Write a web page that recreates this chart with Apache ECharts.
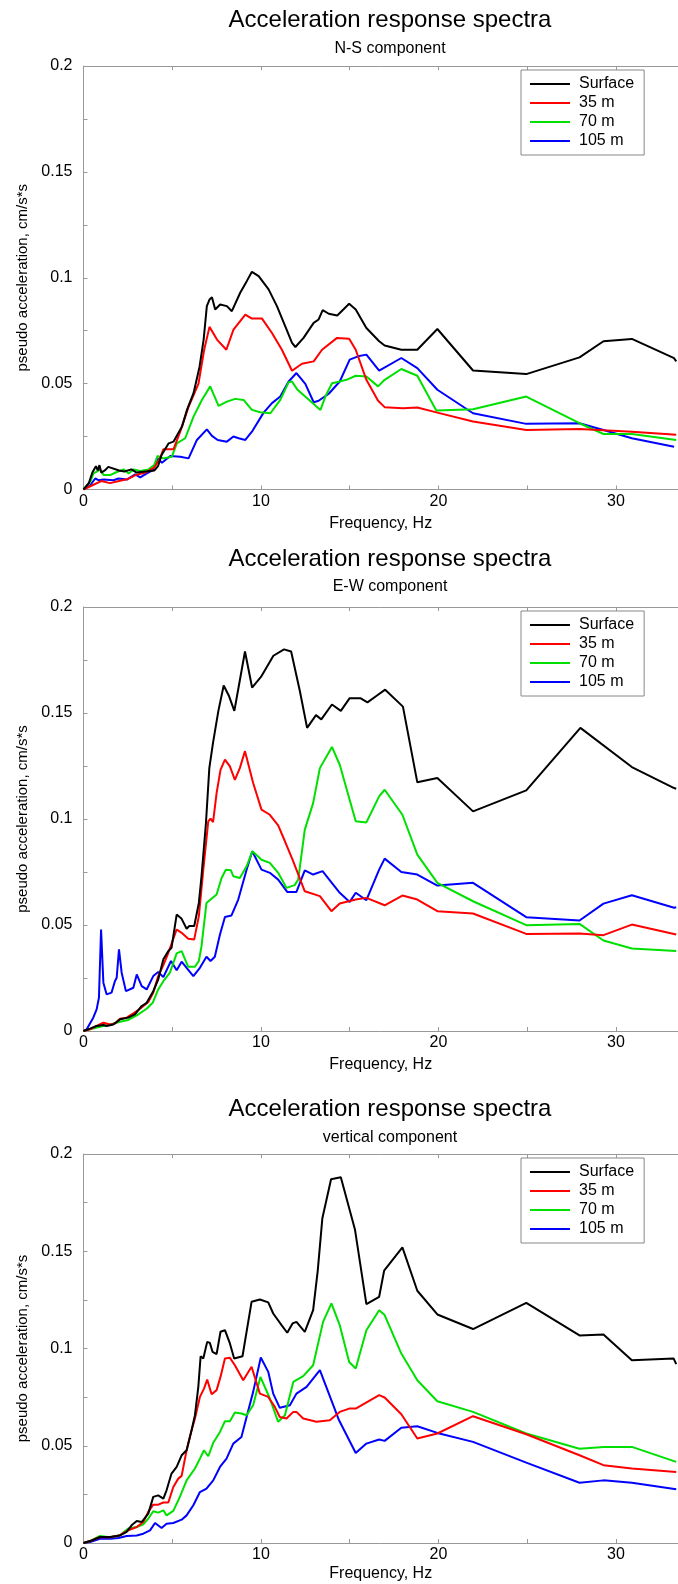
<!DOCTYPE html>
<html>
<head>
<meta charset="utf-8">
<title>Acceleration response spectra</title>
<script src="https://cdn.jsdelivr.net/npm/echarts@6/dist/echarts.min.js"></script>
<style>
	html, body { margin: 0; padding: 0; background: #fff; }
	#plot { width: 678px; height: 1584px; }
</style>
</head>
<body>
<div id="plot"></div>
<script>
// values: [frequency Hz, pseudo acceleration]
const nsSurface = [[0,0],[0.3,0.003],[0.5,0.008],[0.7,0.011],[0.8,0.009],[0.9,0.0115],[1.0,0.008],[1.2,0.009],[1.4,0.0107],[2.0,0.009],[2.3,0.0085],[2.7,0.0095],[3.0,0.008],[3.5,0.0085],[4.0,0.009],[4.2,0.011],[4.4,0.0163],[4.8,0.0218],[5.07,0.0226],[5.55,0.0297],[5.83,0.0376],[6.2,0.0455],[6.54,0.058],[6.77,0.0708],[6.95,0.0866],[7.1,0.0897],[7.24,0.0908],[7.42,0.085],[7.7,0.0874],[8.08,0.0866],[8.36,0.0842],[8.83,0.0929],[9.2,0.0984],[9.49,0.1028],[9.87,0.1008],[10.43,0.0945],[10.9,0.0866],[11.37,0.077],[11.75,0.0692],[11.94,0.0673],[12.4,0.0716],[12.97,0.0787],[13.25,0.0803],[13.48,0.0847],[13.82,0.083],[14.3,0.0822],[14.97,0.0877],[15.34,0.085],[15.94,0.0763],[16.66,0.07],[16.97,0.068],[17.91,0.066],[18.81,0.066],[19.94,0.0758],[21.95,0.0562],[24.95,0.0545],[27.95,0.0624],[29.3,0.07],[30.9,0.0711],[33.28,0.062],[33.4,0.0605]];
const ns35 = [[0,0],[0.5,0.002],[1.0,0.004],[1.5,0.003],[2.0,0.004],[2.5,0.005],[3.0,0.007],[3.5,0.008],[4.0,0.0105],[4.3,0.0145],[4.5,0.019],[5.07,0.019],[5.45,0.0273],[5.92,0.039],[6.48,0.05],[6.8,0.066],[7.1,0.0768],[7.52,0.0708],[8.05,0.066],[8.45,0.0755],[9.12,0.0826],[9.49,0.0807],[10.06,0.0807],[10.62,0.0739],[11.18,0.066],[11.75,0.0561],[12.31,0.0594],[12.97,0.0605],[13.44,0.066],[14.29,0.0716],[14.97,0.0712],[15.34,0.066],[15.94,0.0518],[16.6,0.0419],[16.97,0.0389],[18.0,0.0384],[18.81,0.0387],[19.94,0.0363],[21.95,0.0321],[24.95,0.0281],[27.95,0.0286],[30.9,0.0273],[33.4,0.0258]];
const ns70 = [[0,0],[0.4,0.004],[0.56,0.0076],[0.75,0.0084],[0.94,0.0095],[1.13,0.0068],[1.5,0.0068],[1.78,0.0079],[2.26,0.0095],[2.54,0.0076],[2.82,0.0095],[3.2,0.0087],[3.67,0.0095],[3.98,0.0115],[4.17,0.0158],[4.5,0.0147],[4.98,0.0155],[5.26,0.0218],[5.73,0.0242],[6.2,0.0344],[6.67,0.0423],[7.14,0.0487],[7.61,0.0395],[8.08,0.0415],[8.55,0.0428],[9.02,0.0423],[9.49,0.0376],[9.96,0.0365],[10.53,0.036],[11.09,0.0423],[11.56,0.0507],[11.75,0.051],[12.03,0.0474],[13.35,0.0376],[13.63,0.0439],[14.0,0.0502],[14.44,0.051],[14.82,0.0518],[15.34,0.0537],[15.94,0.0534],[16.6,0.0487],[16.97,0.0518],[17.91,0.0569],[18.81,0.0537],[19.88,0.0373],[21.95,0.0379],[24.95,0.0439],[27.95,0.0313],[29.3,0.0262],[30.9,0.0262],[33.4,0.0234]];
const ns105 = [[0,0],[0.38,0.002],[0.66,0.0052],[0.84,0.0044],[1.13,0.0047],[1.69,0.0044],[1.97,0.0052],[2.44,0.0047],[2.91,0.0071],[3.2,0.0057],[3.57,0.0076],[3.91,0.0092],[4.17,0.0147],[4.42,0.0126],[4.89,0.0158],[5.45,0.0155],[5.92,0.0147],[6.39,0.0234],[6.95,0.0284],[7.24,0.0253],[7.56,0.0234],[8.08,0.0226],[8.45,0.025],[8.74,0.0242],[9.12,0.0234],[9.49,0.0273],[10.15,0.0363],[10.62,0.0408],[11.09,0.0439],[11.56,0.051],[12.0,0.055],[12.5,0.0499],[12.97,0.0412],[13.25,0.0419],[13.82,0.0452],[14.44,0.051],[15.0,0.0613],[15.47,0.0629],[15.94,0.0637],[16.66,0.0561],[17.91,0.0621],[18.81,0.0573],[19.94,0.0471],[21.95,0.036],[24.95,0.031],[27.95,0.0313],[29.3,0.0281],[30.9,0.0242],[33.28,0.0202]];

const ewSurface = [[0,0],[0.37,0.0011],[0.74,0.0024],[1.12,0.0028],[1.3,0.0024],[1.68,0.0031],[2.06,0.0055],[2.52,0.0063],[2.9,0.0078],[3.28,0.0118],[3.56,0.0133],[3.93,0.0188],[4.21,0.0243],[4.5,0.0338],[4.78,0.0377],[4.96,0.0392],[5.25,0.0549],[5.53,0.0529],[5.81,0.0482],[5.96,0.0495],[6.24,0.0495],[6.5,0.0604],[6.65,0.073],[6.9,0.0981],[7.09,0.124],[7.3,0.136],[7.6,0.151],[7.9,0.163],[8.2,0.158],[8.5,0.151],[8.8,0.165],[9.1,0.179],[9.5,0.162],[10.0,0.167],[10.7,0.177],[11.3,0.18],[11.7,0.179],[12.2,0.16],[12.6,0.143],[13.1,0.149],[13.4,0.147],[14.0,0.154],[14.5,0.151],[15.0,0.157],[15.6,0.157],[16.0,0.155],[16.5,0.158],[17.0,0.161],[18.0,0.153],[18.81,0.1173],[19.94,0.1193],[21.95,0.1036],[24.95,0.1135],[28.0,0.143],[30.9,0.1245],[33.28,0.1146],[33.4,0.1143]];
const ew35 = [[0,0],[0.37,0.0008],[0.74,0.0024],[1.12,0.0039],[1.5,0.0031],[1.77,0.0035],[2.06,0.0058],[2.43,0.0063],[2.81,0.0083],[3.19,0.0105],[3.65,0.0137],[3.93,0.018],[4.21,0.0259],[4.5,0.0311],[4.78,0.0369],[5.25,0.0479],[5.53,0.0463],[5.9,0.0435],[6.24,0.0432],[6.5,0.0542],[6.75,0.0761],[7.03,0.0989],[7.16,0.1002],[7.3,0.0985],[7.5,0.1122],[7.72,0.1232],[7.97,0.128],[8.25,0.1248],[8.53,0.1185],[8.81,0.124],[9.1,0.132],[9.56,0.117],[10.03,0.1044],[10.5,0.102],[10.97,0.097],[11.35,0.0895],[11.78,0.0808],[12.47,0.0659],[13.32,0.0636],[13.97,0.0565],[14.44,0.0601],[15.34,0.062],[15.94,0.0628],[16.97,0.0593],[17.97,0.0639],[18.81,0.062],[19.94,0.0565],[21.95,0.0554],[24.95,0.0458],[27.95,0.046],[29.3,0.0452],[30.9,0.0502],[33.4,0.0455]];
const ew70 = [[0,0],[0.37,0.0008],[0.93,0.002],[1.5,0.0031],[2.06,0.0044],[2.52,0.0052],[3.0,0.0074],[3.56,0.0105],[3.9,0.0133],[4.21,0.0196],[4.5,0.0235],[4.87,0.0275],[5.25,0.0366],[5.53,0.0377],[5.9,0.0303],[6.28,0.0303],[6.5,0.033],[6.65,0.04],[6.93,0.0604],[7.16,0.062],[7.5,0.0644],[7.78,0.0722],[8.02,0.0761],[8.31,0.0758],[8.44,0.073],[8.81,0.0722],[9.19,0.0777],[9.52,0.0848],[10.03,0.0808],[10.5,0.0793],[10.97,0.0746],[11.44,0.0675],[11.9,0.0688],[12.1,0.0714],[12.47,0.095],[12.94,0.1075],[13.32,0.124],[14.0,0.134],[14.44,0.1256],[15.34,0.0989],[15.94,0.0984],[16.66,0.1107],[16.97,0.1138],[17.97,0.102],[18.81,0.0832],[19.94,0.0699],[21.95,0.0612],[24.95,0.0499],[27.95,0.0505],[29.3,0.0427],[30.9,0.0389],[33.4,0.0377]];
const ew105 = [[0,0],[0.18,0.0008],[0.55,0.0063],[0.74,0.0102],[0.87,0.0157],[0.99,0.0479],[1.12,0.0228],[1.3,0.0173],[1.58,0.0181],[1.77,0.0235],[1.87,0.0251],[2.0,0.0385],[2.15,0.0275],[2.39,0.0188],[2.81,0.0204],[3.0,0.0267],[3.28,0.0212],[3.56,0.0196],[3.93,0.0259],[4.21,0.0278],[4.5,0.0254],[4.93,0.033],[5.25,0.0287],[5.53,0.0327],[5.81,0.0298],[6.19,0.0259],[6.56,0.0298],[6.93,0.035],[7.16,0.033],[7.4,0.035],[7.69,0.0455],[7.97,0.0538],[8.34,0.0545],[8.72,0.062],[9.19,0.0761],[9.51,0.0848],[10.03,0.0761],[10.5,0.0746],[10.97,0.0714],[11.48,0.0656],[12.0,0.0656],[12.47,0.0758],[12.94,0.0738],[13.47,0.0754],[14.07,0.0691],[14.44,0.0652],[15.0,0.0609],[15.34,0.0652],[15.94,0.0617],[16.66,0.0761],[16.97,0.0813],[17.91,0.075],[18.81,0.0738],[19.94,0.0686],[21.95,0.0699],[24.95,0.0537],[27.95,0.0521],[29.3,0.0601],[30.9,0.064],[33.28,0.0581],[33.4,0.0584]];

const vtSurface = [[0,0],[0.37,0.001],[0.93,0.0031],[1.5,0.0031],[2.06,0.0039],[2.43,0.0057],[2.71,0.0091],[3.0,0.0113],[3.28,0.0108],[3.65,0.0151],[3.93,0.0237],[4.21,0.0245],[4.5,0.0228],[4.68,0.0271],[4.96,0.0357],[5.25,0.0391],[5.53,0.0451],[5.81,0.0477],[6.09,0.058],[6.28,0.0657],[6.47,0.0803],[6.6,0.096],[6.75,0.0949],[6.97,0.1034],[7.12,0.1029],[7.27,0.0983],[7.5,0.0971],[7.72,0.1086],[7.97,0.1094],[8.25,0.1026],[8.49,0.0949],[8.96,0.096],[9.47,0.124],[9.94,0.1252],[10.41,0.1237],[10.69,0.118],[11.16,0.112],[11.48,0.1081],[11.78,0.1129],[12.0,0.1137],[12.47,0.1086],[12.94,0.1197],[13.2,0.14],[13.46,0.167],[13.95,0.187],[14.5,0.188],[15.3,0.161],[15.94,0.1228],[16.66,0.1266],[16.94,0.14],[17.97,0.152],[18.81,0.1297],[19.94,0.1175],[21.95,0.11],[24.95,0.1235],[27.95,0.1067],[29.3,0.1072],[30.9,0.094],[33.25,0.0949],[33.4,0.092]];
const vt35 = [[0,0],[0.37,0.001],[0.93,0.003],[1.5,0.003],[2.06,0.004],[2.52,0.0065],[3.0,0.0082],[3.37,0.0108],[3.65,0.016],[3.93,0.0197],[4.21,0.0197],[4.5,0.0208],[4.78,0.0208],[5.06,0.0288],[5.34,0.0331],[5.53,0.0345],[5.81,0.0477],[6.09,0.058],[6.28,0.064],[6.56,0.0751],[6.79,0.0794],[6.97,0.084],[7.22,0.0765],[7.5,0.0786],[7.72,0.0854],[7.97,0.0949],[8.25,0.0952],[8.53,0.0914],[9.0,0.0837],[9.47,0.0906],[9.94,0.0768],[10.41,0.0751],[10.78,0.07],[11.06,0.0648],[11.44,0.064],[11.82,0.0674],[12.0,0.0674],[12.38,0.064],[13.13,0.0623],[13.88,0.0631],[14.44,0.0674],[14.97,0.0691],[15.34,0.0691],[16.66,0.076],[16.97,0.0748],[17.91,0.0662],[18.81,0.0537],[19.94,0.0563],[21.95,0.0652],[24.95,0.0559],[27.95,0.0451],[29.3,0.04],[30.9,0.0383],[33.4,0.0365]];
const vt70 = [[0,0],[0.37,0.001],[0.93,0.0036],[1.5,0.003],[2.06,0.004],[2.52,0.0074],[3.0,0.0082],[3.37,0.0096],[3.65,0.0125],[3.93,0.0163],[4.21,0.0156],[4.5,0.0168],[4.68,0.0142],[5.06,0.0165],[5.43,0.0237],[5.81,0.0322],[6.28,0.0383],[6.56,0.0434],[6.79,0.0477],[7.03,0.0446],[7.31,0.0515],[7.69,0.0571],[7.97,0.0626],[8.25,0.0626],[8.53,0.0671],[8.9,0.0666],[9.19,0.0657],[9.56,0.0708],[9.97,0.0854],[10.5,0.0743],[10.97,0.0623],[11.35,0.0657],[11.82,0.0828],[12.38,0.0858],[12.94,0.0914],[13.5,0.1137],[13.97,0.1232],[14.44,0.112],[14.97,0.0931],[15.34,0.0897],[15.94,0.1094],[16.66,0.1197],[16.97,0.1172],[17.91,0.0974],[18.81,0.0837],[19.94,0.0729],[21.95,0.0674],[24.95,0.0563],[27.95,0.0485],[29.3,0.0494],[30.9,0.0494],[33.4,0.0417]];
const vt105 = [[0,0],[0.37,0.0005],[0.93,0.0022],[1.5,0.0022],[1.97,0.0026],[2.43,0.0036],[3.0,0.0039],[3.37,0.0048],[3.75,0.0065],[4.03,0.0103],[4.4,0.0077],[4.68,0.0099],[5.06,0.0103],[5.53,0.012],[5.81,0.0142],[6.19,0.0194],[6.56,0.0262],[6.93,0.028],[7.31,0.0322],[7.69,0.0391],[8.06,0.0434],[8.44,0.0511],[8.9,0.0545],[9.19,0.0648],[9.56,0.0777],[9.99,0.0954],[10.41,0.088],[10.69,0.0768],[11.06,0.0695],[11.63,0.0708],[12.0,0.0768],[12.57,0.0803],[13.32,0.0889],[14.4,0.0631],[15.34,0.0463],[15.94,0.0511],[16.66,0.0532],[16.97,0.0525],[17.91,0.0593],[18.81,0.06],[19.94,0.0566],[21.95,0.052],[24.95,0.0413],[27.95,0.031],[29.3,0.0322],[30.9,0.031],[33.4,0.0276]];

const seriesNames = ['Surface', '35 m', '70 m', '105 m'];
const componentNames = ['N-S component', 'E-W component', 'vertical component'];
const xTickLabels = [0, 10, 20, 30];
const yTickLabels = [0, 0.05, 0.1, 0.15, 0.2];

const panelData = [
	[nsSurface, ns35, ns70, ns105],
	[ewSurface, ew35, ew70, ew105],
	[vtSurface, vt35, vt70, vt105]
];

// layout of the three stacked panels (pixels)
const panels = [
	{ top: 66, height: 423.5, titleTop: 3, subTop: 36, xNameGap: 26 },
	{ top: 607, height: 424, titleTop: 542, subTop: 574, xNameGap: 26 },
	{ top: 1154, height: 389, titleTop: 1092, subTop: 1125, xNameGap: 23 }
];
const colors = ['#000000', '#ff0000', '#00e000', '#0000ff'];
const font = '"Liberation Sans", Arial, Helvetica, sans-serif';
const axisGray = '#999999';

function isTick(list, v) {
	return list.some((it) => Math.abs(it - v) < 1e-9);
}

function buildOption() {
	const title = [];
	const grid = [];
	const xAxis = [];
	const yAxis = [];
	const legend = [];
	const series = [];

	panels.forEach((p, i) => {
		title.push({
			text: 'Acceleration response spectra',
			left: 385,
			top: p.titleTop,
			textAlign: 'center',
			textStyle: { fontFamily: font, fontSize: 24, fontWeight: 'normal', color: '#000' }
		});
		title.push({
			text: componentNames[i],
			left: 385,
			top: p.subTop,
			textAlign: 'center',
			textStyle: { fontFamily: font, fontSize: 16, fontWeight: 'normal', color: '#000' }
		});
		grid.push({ left: 83.5, right: 0, top: p.top, height: p.height });

		const xBase = {
			gridIndex: i,
			type: 'value',
			min: 0,
			max: 33.5,
			interval: 5,
			axisLine: { lineStyle: { color: axisGray, width: 1 } },
			axisTick: { inside: true, length: 4, lineStyle: { color: axisGray } },
			splitLine: { show: false }
		};
		xAxis.push(Object.assign({}, xBase, {
			position: 'bottom',
			name: 'Frequency, Hz',
			nameLocation: 'middle',
			nameGap: p.xNameGap,
			nameTextStyle: { fontFamily: font, fontSize: 16, color: '#000' },
			axisLabel: {
				margin: 4,
				fontFamily: font,
				fontSize: 16,
				color: '#000',
				showMaxLabel: false,
				formatter: (v) => (isTick(xTickLabels, v) ? String(v) : '')
			}
		}));
		xAxis.push(Object.assign({}, xBase, {
			position: 'top',
			axisLabel: { show: false }
		}));
		yAxis.push({
			gridIndex: i,
			type: 'value',
			min: 0,
			max: 0.2,
			interval: 0.025,
			name: 'pseudo acceleration, cm/s*s',
			nameLocation: 'middle',
			nameGap: 52,
			nameTextStyle: { fontFamily: font, fontSize: 15, color: '#000' },
			axisLine: { show: true, lineStyle: { color: axisGray, width: 1 } },
			axisTick: { show: true, inside: true, length: 4, lineStyle: { color: axisGray } },
			splitLine: { show: false },
			axisLabel: {
				margin: 11,
				fontFamily: font,
				fontSize: 16,
				color: '#000',
				formatter: (v) => (isTick(yTickLabels, v) ? String(Math.round(v * 1000) / 1000) : '')
			}
		});
		legend.push({
			data: seriesNames,
			orient: 'vertical',
			left: 521,
			top: p.top + 4,
			icon: 'rect',
			itemWidth: 40,
			itemHeight: 2,
			itemGap: 3,
			padding: [6, 10, 6, 9],
			borderColor: '#888888',
			borderWidth: 1,
			backgroundColor: '#ffffff',
			selectedMode: false,
			textStyle: { fontFamily: font, fontSize: 16, lineHeight: 16, color: '#000', padding: [0, 0, 0, 4] }
		});

		panelData[i].forEach((data, k) => {
			series.push({
				name: seriesNames[k],
				type: 'line',
				xAxisIndex: i * 2,
				yAxisIndex: i,
				symbol: 'none',
				clip: true,
				z: 10 - k,
				color: colors[k],
				itemStyle: { color: colors[k] },
				lineStyle: { color: colors[k], width: 2 },
				data: data
			});
		});
	});

	return {
		animation: false,
		backgroundColor: '#ffffff',
		title,
		grid,
		xAxis,
		yAxis,
		legend,
		series
	};
}

function plot() {
	const box = document.getElementById('plot');
	const chart = echarts.init(box);
	chart.setOption(buildOption());
	window.addEventListener('resize', () => {
		chart.resize();
	});
}

window.addEventListener('load', () => {
	plot();
});
</script>
</body>
</html>
